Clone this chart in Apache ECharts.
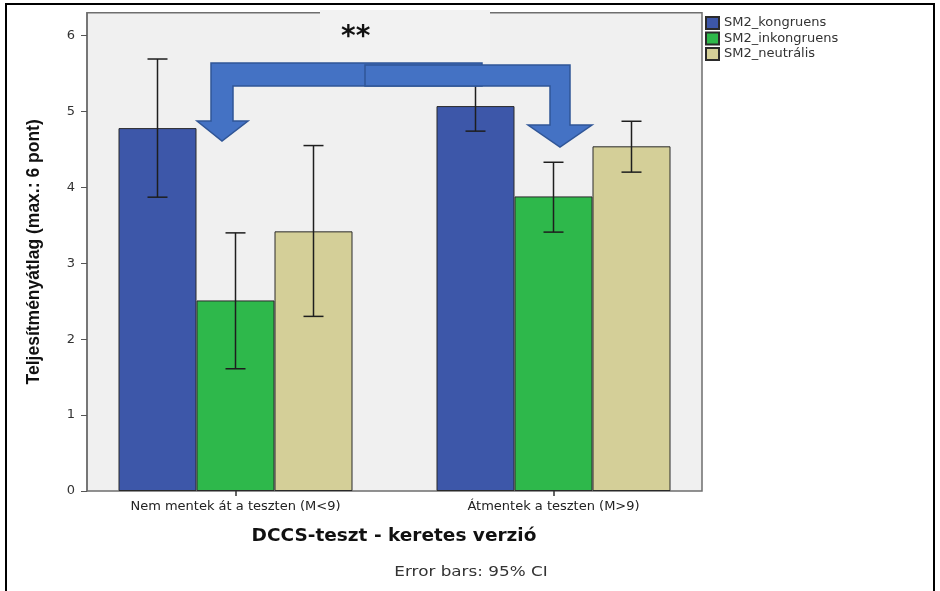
<!DOCTYPE html>
<html>
<head>
<meta charset="utf-8">
<script src="https://cdn.jsdelivr.net/npm/echarts@6/dist/echarts.min.js"></script>
<style>
  html, body { margin: 0; padding: 0; background: #fff; }
  #chart { width: 940px; height: 591px; }
</style>
</head>
<body>
<div id="chart"></div>
<script>
// adatok
var categories = ['Nem mentek át a teszten (M<9)', 'Átmentek a teszten (M>9)'];
var seriesNames = ['SM2_kongruens', 'SM2_inkongruens', 'SM2_neutrális'];
var kongruensMean = [4.78, 5.07];
var kongruensLow = [3.87, 4.74];
var kongruensHigh = [5.69, 5.40];
var inkongruensMean = [2.51, 3.88];
var inkongruensLow = [1.61, 3.41];
var inkongruensHigh = [3.40, 4.33];
var neutralisMean = [3.42, 4.54];
var neutralisLow = [2.30, 4.20];
var neutralisHigh = [4.55, 4.87];
var yTicks = [0, 1, 2, 3, 4, 5, 6];

var colors = ['#3d57a9', '#2eb84b', '#d4cf98'];
var means = [kongruensMean, inkongruensMean, neutralisMean];
var lows = [kongruensLow, inkongruensLow, neutralisLow];
var highs = [kongruensHigh, inkongruensHigh, neutralisHigh];
var BAR_W = 78;
var Y_MAX = 6.3;

function errorBar(idx){ // hibasáv rajzolása
    return function(params, api){
        var c = api.value(0);
        var lo = api.coord([c, api.value(1)]);
        var hi = api.coord([c, api.value(2)]);
        var cx = lo[0] + (idx - 1) * BAR_W;
        var hw = 10;
        var st = { stroke: '#1e1e1e', lineWidth: 1.5 };
        return {
            type: 'group',
            children: [
                { type: 'line', shape: { x1: cx, y1: hi[1], x2: cx, y2: lo[1] }, style: st },
                { type: 'line', shape: { x1: cx - hw, y1: hi[1], x2: cx + hw, y2: hi[1] }, style: st },
                { type: 'line', shape: { x1: cx - hw, y1: lo[1], x2: cx + hw, y2: lo[1] }, style: st }
            ]
        };
    };
}

var series = [];
for (var i = 0; i < 3; i++) {
    series.push({
        name: seriesNames[i],
        type: 'bar',
        xAxisIndex: 0,
        yAxisIndex: 0,
        barWidth: BAR_W,
        barGap: '0%',
        itemStyle: { color: colors[i], borderColor: '#2a2a2a', borderWidth: 1 },
        data: means[i]
    });
}
for (var j = 0; j < 3; j++) {
    var eb = [];
    for (var k = 0; k < categories.length; k++) {
        eb.push([k, lows[j][k], highs[j][k]]);
    }
    series.push({
        type: 'custom',
        xAxisIndex: 0,
        yAxisIndex: 0,
        z: 5,
        renderItem: errorBar(j),
        encode: { x: 0, y: [1, 2] },
        data: eb
    });
}

var chart = echarts.init(document.getElementById('chart'));
var option = {
    animation: false,
    textStyle: { fontFamily: 'DejaVu Sans' },
    legend: {
        data: seriesNames,
        orient: 'vertical',
        left: 705,
        top: 16,
        padding: 0,
        itemWidth: 13,
        itemHeight: 12,
        itemGap: 1.5,
        icon: 'rect',
        textStyle: { fontSize: 13, lineHeight: 13, color: '#333', fontFamily: 'DejaVu Sans' }
    },
    grid: [
        { left: 76.5, width: 636, top: 12.7, height: 478.3, show: false },
        { left: 87, width: 615, top: 12.7, height: 478.3, show: true,
          backgroundColor: '#f0f0f0', borderColor: '#6e6e6e', borderWidth: 1.5, z: 0 }
    ],
    xAxis: [
        {
            type: 'category',
            gridIndex: 0,
            data: categories,
            axisLine: { show: false },
            axisTick: { show: true, alignWithLabel: true, length: 5, lineStyle: { color: '#333', width: 1.5 } },
            axisLabel: { fontSize: 13, color: '#222', margin: 9, fontFamily: 'DejaVu Sans' }
        },
        { type: 'value', gridIndex: 1, show: false }
    ],
    yAxis: [
        { type: 'value', gridIndex: 0, min: 0, max: Y_MAX, show: false },
        {
            type: 'value',
            gridIndex: 1,
            min: 0,
            max: Y_MAX,
            name: 'Teljesítményátlag (max.: 6 pont)',
            nameLocation: 'middle',
            nameGap: 44,
            nameRotate: 90,
            nameTextStyle: { fontFamily: 'Liberation Sans', fontWeight: 'bold', fontSize: 17.5, color: '#111' },
            splitLine: { show: false },
            axisLine: { show: true, lineStyle: { color: '#6e6e6e', width: 1.5 } },
            axisTick: { show: true, length: 6, customValues: yTicks, lineStyle: { color: '#555' } },
            axisLabel: { fontSize: 13, color: '#333', margin: 12, customValues: yTicks, fontFamily: 'DejaVu Sans' }
        }
    ],
    graphic: [
        { type: 'rect', z: 100, shape: { x: 6, y: 4, width: 928, height: 600 },
          style: { fill: 'none', stroke: '#000', lineWidth: 2 } },
        { type: 'rect', z: 100, shape: { x: 320, y: 10, width: 170, height: 52 },
          style: { fill: '#f2f2f2' } },
        { type: 'text', z: 101, x: 341, y: 38,
          style: { text: '**', font: 'bold 28px "DejaVu Sans"', fill: '#111', verticalAlign: 'middle' } },
        { type: 'polygon', z: 100,
          shape: { points: [[482, 63], [211, 63], [211, 121], [197, 121], [222, 141], [248, 121], [233, 121], [233, 86], [482, 86]] },
          style: { fill: '#4472c4', stroke: '#2f5597', lineWidth: 1.5 } },
        { type: 'polygon', z: 101,
          shape: { points: [[365, 65], [570, 65], [570, 125], [592, 125], [560, 147], [528, 125], [550, 125], [550, 86], [365, 86]] },
          style: { fill: '#4472c4', stroke: '#2f5597', lineWidth: 1.5 } },
        { type: 'text', z: 100, x: 394, y: 536,
          style: { text: 'DCCS-teszt - keretes verzió', font: 'bold 18.5px "DejaVu Sans"', fill: '#111', align: 'center', verticalAlign: 'middle' } },
        { type: 'text', z: 100, x: 471, y: 572, scaleX: 1.2,
          style: { text: 'Error bars: 95% CI', font: '14px "DejaVu Sans"', fill: '#333', align: 'center', verticalAlign: 'middle' } }
    ],
    series: series
};
chart.setOption(option, true);
</script>
</body>
</html>
